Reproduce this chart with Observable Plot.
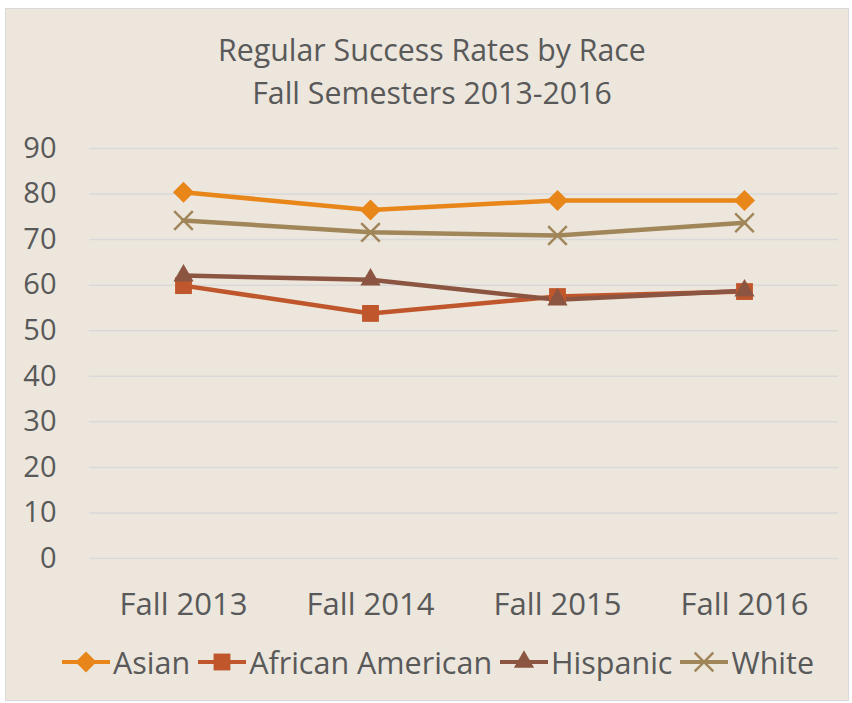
<!DOCTYPE html>
<html><head><meta charset="utf-8">
<script src="https://cdn.jsdelivr.net/npm/d3@7"></script>
<script src="https://cdn.jsdelivr.net/npm/@observablehq/plot@0.6"></script>
<style>
body{margin:0;background:#fff;font-family:"Open Sans",sans-serif;}
#card{position:absolute;left:5px;top:8px;width:844px;height:693px;background:#ECE6DD;border:1px solid #D9D9D9;box-sizing:border-box;overflow:hidden;}
#title{position:absolute;left:10px;right:0;top:19px;text-align:center;color:#595959;font-size:30.3px;line-height:43px;}
#chart{position:absolute;left:0;top:117px;}
#legend{position:absolute;left:30px;right:0;top:632px;display:flex;justify-content:center;align-items:center;color:#595959;font-size:30.5px;}
#legend .item{display:flex;align-items:center;margin-right:8px;}
#legend svg{display:block;margin-right:3px;}
</style>
</head><body>
<div id="card">
  <div id="title">Regular Success Rates by Race<br>Fall Semesters 2013-2016</div>
  <div id="chart"></div>
  <div id="legend"></div>
</div>
<script>
const terms = ["Fall 2013", "Fall 2014", "Fall 2015", "Fall 2016"];
const races = ["Asian", "African American", "Hispanic", "White"];
const asian = [80.4, 76.5, 78.6, 78.6];
const africanAmerican = [59.9, 53.8, 57.5, 58.6];
const hispanic = [62.1, 61.2, 56.8, 58.8];
const white = [74.2, 71.6, 70.9, 73.7];
const yTicks = [0, 10, 20, 30, 40, 50, 60, 70, 80, 90];
const colors = ["#E8861A", "#C0562B", "#8B5541", "#A08658"];
const symbols = ["diamond2", "square", "triangle", "times"];
const sizes = [9.5, 9.5, 7.5, 8.5];

const seriesValues = [asian, africanAmerican, hispanic, white];
const data = [];
races.forEach((race, i) => terms.forEach((t, j) => data.push({race, term: t, value: seriesValues[i][j], r: sizes[i]})));

const plot = Plot.plot({
  width: 842,
  height: 500,
  marginTop: 22,
  marginBottom: 68,
  marginLeft: 83,
  marginRight: 10,
  style: {background: "transparent", fontFamily: "Open Sans, sans-serif", color: "#595959"},
  x: {type: "point", domain: terms, padding: 0.5, label: null},
  y: {domain: [0, 90], ticks: yTicks, label: null},
  color: {domain: races, range: colors},
  symbol: {domain: races, range: symbols},
  r: {type: "identity"},
  marks: [
    Plot.ruleY(yTicks, {stroke: "#D9D9D9", strokeWidth: 1.5}),
    Plot.line(data, {x: "term", y: "value", z: "race", stroke: "race", strokeWidth: 4.5, strokeLinejoin: "round"}),
    Plot.dot(data.filter(d => d.race !== "White"), {x: "term", y: "value", symbol: "race", fill: "race", r: "r", stroke: null}),
    Plot.dot(data.filter(d => d.race === "White"), {x: "term", y: "value", symbol: "times", stroke: colors[3], r: "r", strokeWidth: 2.5}),
    Plot.axisX({tickSize: 0, tickPadding: 34, fontSize: 31, fill: "#595959"}),
    Plot.axisY({ticks: yTicks, tickSize: 0, tickPadding: 33, fontSize: 29, fill: "#595959"})
  ]
});
document.getElementById("chart").appendChild(plot);

// legend
const leg = d3.select("#legend");
const symMap = {diamond2: d3.symbolDiamond2, square: d3.symbolSquare, triangle: d3.symbolTriangle, times: d3.symbolTimes};
races.forEach((race, i) => {
  const item = leg.append("div").attr("class", "item");
  const svg = item.append("svg").attr("width", 48).attr("height", 24);
  svg.append("line").attr("x1", 0).attr("x2", 48).attr("y1", 12).attr("y2", 12).attr("stroke", colors[i]).attr("stroke-width", 4);
  const size = Math.PI * sizes[i] * sizes[i];
  const p = svg.append("path").attr("transform", "translate(24,12)").attr("d", d3.symbol(symMap[symbols[i]], size)());
  if (symbols[i] === "times") p.attr("fill", "none").attr("stroke", colors[i]).attr("stroke-width", 2.5);
  else p.attr("fill", colors[i]);
  item.append("span").text(race);
});
</script>
</body></html>
